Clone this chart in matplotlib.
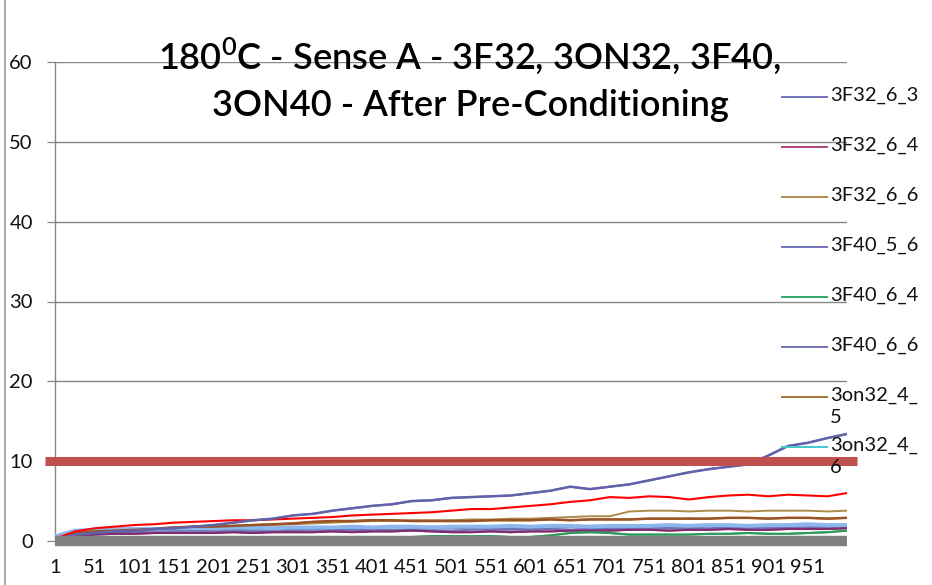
import matplotlib
matplotlib.use("Agg")
import matplotlib.pyplot as plt
from matplotlib.lines import Line2D

plt.rcParams['font.family'] = ['Lato', 'DejaVu Sans']

# ---------------- data ----------------
sample_cats = list(range(1, 1000, 25)) + [1000]
x_tick_labels = [str(v) for v in range(1, 1000, 50)]
y_ticks = [0, 10, 20, 30, 40, 50, 60]

legend_names = ["3F32_6_3", "3F32_6_4", "3F32_6_6", "3F40_5_6",
                "3F40_6_4", "3F40_6_6", "3on32_4_5", "3on32_4_6"]
legend_colors = ["#7272b8", "#b0447c", "#ad8a4c", "#7272b8",
                 "#35a868", "#7272b8", "#a8743a", "#45c6c8"]

s_3F32_6_3 = [0.2, 0.8, 1.0, 1.2, 1.3, 1.5, 1.6, 1.8, 2.0, 2.3, 2.6, 2.8, 3.2, 3.4, 3.8, 4.1,
              4.4, 4.6, 5.0, 5.1, 5.4, 5.5, 5.6, 5.7, 6.0, 6.3, 6.8, 6.5, 6.8, 7.1, 7.6, 8.1,
              8.6, 9.0, 9.3, 9.6, 10.7, 11.9, 12.3, 12.9, 13.4]
s_3F32_6_4 = [0.1, 0.6, 0.8, 0.9, 0.9, 1.0, 1.0, 1.0, 1.0, 1.1, 1.0, 1.1, 1.1, 1.1, 1.2, 1.1,
              1.2, 1.2, 1.3, 1.2, 1.1, 1.1, 1.2, 1.1, 1.2, 1.2, 1.3, 1.3, 1.3, 1.4, 1.4, 1.3,
              1.4, 1.4, 1.5, 1.4, 1.4, 1.5, 1.5, 1.5, 1.6]
s_3F32_6_6 = [0.3, 0.9, 1.2, 1.3, 1.4, 1.5, 1.6, 1.6, 1.7, 1.8, 1.9, 2.0, 2.1, 2.2, 2.3, 2.4,
              2.5, 2.5, 2.6, 2.6, 2.6, 2.7, 2.7, 2.8, 2.8, 2.9, 3.0, 3.1, 3.1, 3.7, 3.8, 3.8,
              3.7, 3.8, 3.8, 3.7, 3.8, 3.8, 3.8, 3.7, 3.8]
s_3F40_5_6 = [0.2, 0.9, 1.1, 1.2, 1.2, 1.3, 1.3, 1.3, 1.4, 1.4, 1.4, 1.4, 1.5, 1.4, 1.5, 1.5,
              1.5, 1.4, 1.5, 1.5, 1.6, 1.5, 1.5, 1.6, 1.6, 1.6, 1.7, 1.6, 1.6, 1.7, 1.6, 1.7,
              1.7, 1.6, 1.7, 1.7, 1.8, 1.7, 1.7, 1.8, 1.8]
s_3F40_6_4 = [0.0, 0.2, 0.3, 0.3, 0.3, 0.3, 0.4, 0.4, 0.4, 0.4, 0.4, 0.5, 0.5, 0.5, 0.5, 0.5,
              0.5, 0.5, 0.5, 0.6, 0.6, 0.6, 0.6, 0.5, 0.5, 0.7, 1.0, 1.1, 1.0, 0.8, 0.8, 0.8,
              0.8, 0.9, 0.9, 1.0, 0.9, 0.9, 1.0, 1.1, 1.3]
s_3F40_6_6 = [0.1, 0.7, 0.9, 1.0, 1.0, 1.1, 1.1, 1.1, 1.2, 1.2, 1.2, 1.2, 1.3, 1.2, 1.3, 1.3,
              1.3, 1.3, 1.4, 1.3, 1.3, 1.4, 1.4, 1.4, 1.4, 1.5, 1.4, 1.5, 1.5, 1.5, 1.5, 1.6,
              1.5, 1.5, 1.6, 1.6, 1.6, 1.6, 1.7, 1.6, 1.7]
s_3on32_4_5 = [0.2, 1.0, 1.2, 1.3, 1.4, 1.5, 1.7, 1.8, 1.8, 1.9, 2.0, 2.1, 2.2, 2.4, 2.5, 2.5,
               2.6, 2.6, 2.5, 2.5, 2.5, 2.5, 2.6, 2.6, 2.6, 2.7, 2.6, 2.7, 2.7, 2.7, 2.8, 2.8,
               2.8, 2.8, 2.9, 2.9, 2.8, 2.9, 2.9, 2.8, 2.9]
s_3on32_4_6 = [0.4, 1.1, 1.3, 1.4, 1.4, 1.5, 1.5, 1.6, 1.6, 1.6, 1.5, 1.6, 1.6, 1.6, 1.7, 1.6,
               1.7, 1.7, 1.7, 1.8, 1.7, 1.8, 1.8, 1.8, 1.8, 1.9, 1.8, 1.9, 1.9, 1.8, 1.9, 1.9,
               2.0, 1.9, 1.9, 2.0, 2.0, 1.9, 2.0, 2.0, 2.1]
# series not shown in the (truncated) legend
s_light_blue = [0.6, 1.3, 1.4, 1.5, 1.5, 1.5, 1.6, 1.6, 1.6, 1.7, 1.7, 1.6, 1.7, 1.7, 1.7, 1.8,
                1.7, 1.8, 1.8, 1.7, 1.8, 1.8, 1.8, 1.9, 1.8, 1.9, 1.9, 1.8, 1.9, 1.9, 1.9, 2.0,
                1.9, 2.0, 2.0, 1.9, 2.0, 2.0, 2.1, 2.0, 2.0]
s_red = [0.3, 1.2, 1.6, 1.8, 2.0, 2.1, 2.3, 2.4, 2.5, 2.6, 2.6, 2.7, 2.8, 2.9, 3.0, 3.2,
         3.3, 3.4, 3.5, 3.6, 3.8, 4.0, 4.0, 4.2, 4.4, 4.6, 4.9, 5.1, 5.5, 5.4, 5.6, 5.5,
         5.2, 5.5, 5.7, 5.8, 5.6, 5.8, 5.7, 5.6, 6.0]
s_gray = [0.0] * len(sample_cats)
limit_value = 10

legend_series = [s_3F32_6_3, s_3F32_6_4, s_3F32_6_6, s_3F40_5_6,
                 s_3F40_6_4, s_3F40_6_6, s_3on32_4_5, s_3on32_4_6]

# ---------------- figure ----------------
W, H = 932, 585
fig = plt.figure(figsize=(W / 100, H / 100), dpi=100)
ax_l, ax_r, ax_t, ax_b = 55, 847, 62, 541
ax = fig.add_axes([ax_l / W, (H - ax_b) / H, (ax_r - ax_l) / W, (ax_b - ax_t) / H])

grid_c = "#878787"
txt_c = "#111111"
ax.set_ylim(0, 60)
ax.set_xlim(0.5, 1000.5)
ax.set_yticks(y_ticks)
ax.yaxis.grid(True, color=grid_c, lw=1.0)
ax.set_axisbelow(True)
ax.set_xticks(list(range(1, 1000, 50)))
ax.set_xticklabels(x_tick_labels)
for s in ["top", "right", "bottom"]:
    ax.spines[s].set_visible(False)
ax.spines["left"].set_color(grid_c)
ax.spines["left"].set_linewidth(1.0)
ax.tick_params(axis="y", direction="out", length=6, width=0.9, color=grid_c,
               pad=10, labelsize=14.5, labelcolor=txt_c)
ax.tick_params(axis="x", length=0, pad=13, labelsize=14.5, labelcolor=txt_c)

# data lines
for vals, col in zip(legend_series, legend_colors):
    ax.plot(sample_cats, vals, color=col, lw=1.4, zorder=3)
ax.plot(sample_cats, s_light_blue, color="#8db6ec", lw=2.8, zorder=3.5)
ax.plot(sample_cats, s_3on32_4_5, color="#9a5424", lw=1.8, zorder=3.6)
ax.plot(sample_cats, s_3F32_6_4, color="#7e2c6e", lw=1.5, zorder=3.6)
ax.plot(sample_cats, s_3F40_6_4, color="#2e9a5a", lw=1.5, zorder=3.6)
ax.plot(sample_cats, s_red, color="#ff0000", lw=1.5, zorder=3.8)
ax.plot(sample_cats, s_3F32_6_3, color="#6262aa", lw=1.8, zorder=3.9)
ax.plot(sample_cats, s_gray, color="#7f7f7f", lw=7.5, zorder=4, clip_on=False,
        solid_capstyle="butt")

# limit line
ax.axhline(limit_value, xmin=-0.013, xmax=1.013, color="#c0504d", lw=6.5,
           clip_on=False, zorder=5, solid_capstyle="butt")

# title
fig.text(470 / W, 1 - 79 / H,
         "180$^{\\mathregular{0}}$C - Sense A - 3F32, 3ON32, 3F40,\n3ON40 - After Pre-Conditioning",
         ha="center", va="center", fontsize=26, color="#000000", linespacing=1.5,
         fontweight="semibold")

# legend (manual layout, Excel style)
wrapped = {"3on32_4_5": "3on32_4_\n5", "3on32_4_6": "3on32_4_\n6"}
for i, (name, col) in enumerate(zip(legend_names, legend_colors)):
    yc = 97 + 50 * i
    fig.add_artist(Line2D([782 / W, 827 / W], [1 - yc / H, 1 - yc / H],
                          transform=fig.transFigure, color=col, lw=1.4))
    fig.text(830 / W, 1 - (yc - 10) / H, wrapped.get(name, name), ha="left", va="top",
             fontsize=14.5, color=txt_c, linespacing=1.35)

# chart area left border
fig.add_artist(Line2D([5 / W, 5 / W], [0, 1], transform=fig.transFigure,
                      color="#9a9a9a", lw=1.2))

fig.savefig("out.png", dpi=100)
